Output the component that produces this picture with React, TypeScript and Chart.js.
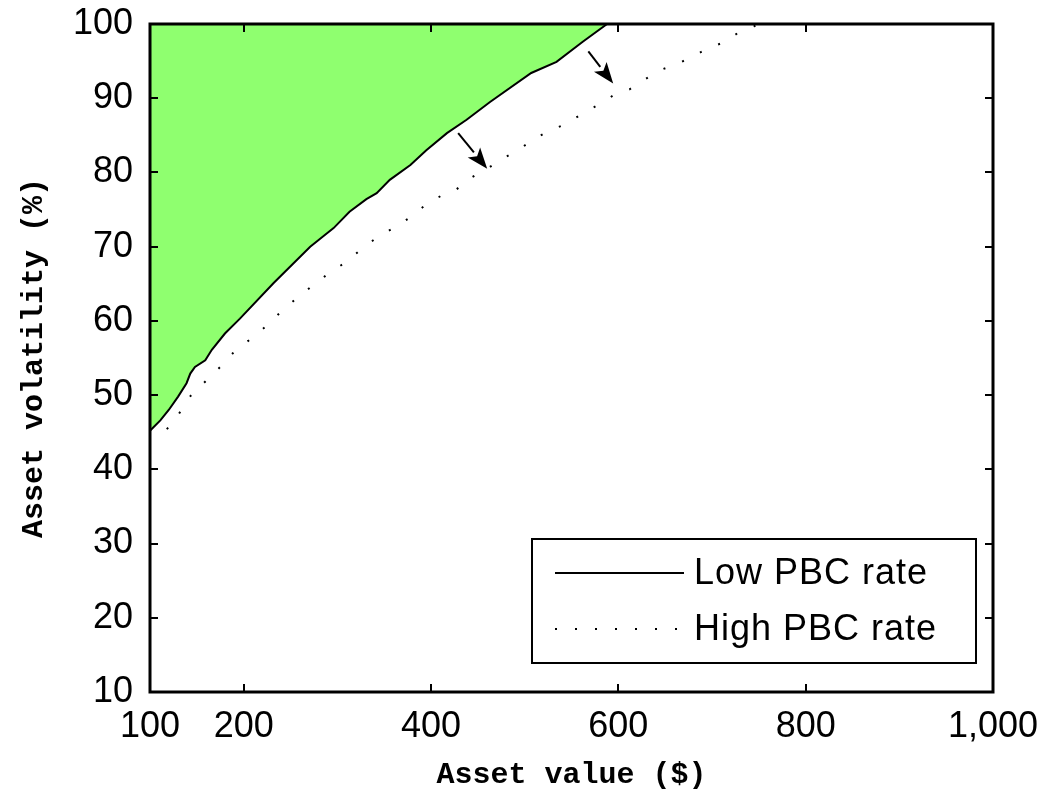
import React, { useEffect, useRef } from 'react';
import { Chart, registerables } from 'chart.js';

Chart.register(...registerables);

// Low PBC rate (solid boundary of the green region)
const lowX = [100, 111, 120, 130, 139, 143, 148, 159, 166, 180, 196, 232, 271, 289, 296, 313, 331, 342, 356, 378, 395, 417, 438, 463, 507, 534, 562, 588];
const lowY = [45.2, 46.6, 48.0, 49.8, 51.6, 52.9, 53.8, 54.7, 56.1, 58.3, 60.3, 65.1, 70.0, 71.8, 72.5, 74.7, 76.4, 77.2, 79.0, 81.0, 83.0, 85.3, 87.1, 89.5, 93.4, 94.9, 97.6, 100];

// High PBC rate (dotted)
const highX = [118, 131, 141, 158, 175, 191, 208, 225, 242, 258, 275, 293, 309, 325, 343, 360, 376, 393, 410, 426, 443, 460, 477, 494, 510, 527, 544, 560, 577, 595, 612, 628, 645, 662, 678, 695, 712, 729, 745, 750];
const highY = [45.4, 47.5, 49.6, 51.7, 53.8, 56.0, 57.6, 59.4, 61.5, 63.2, 64.9, 66.6, 67.9, 69.6, 71.3, 72.5, 73.8, 75.5, 76.8, 77.6, 79.3, 80.5, 81.9, 83.1, 84.5, 85.7, 86.5, 87.8, 89.0, 90.4, 91.2, 92.5, 93.8, 94.6, 95.5, 96.7, 97.5, 98.9, 99.7, 100];

const seriesLabels = ['Low PBC rate', 'High PBC rate'];

const xTickValues = [100, 200, 400, 600, 800, 1000];
const yTickValues = [10, 20, 30, 40, 50, 60, 70, 80, 90, 100];

// Arrows from the low-rate curve to the high-rate curve
const arrowFromX = [429, 568];
const arrowFromY = [85.3, 96.3];
const arrowToX = [460, 594.5];
const arrowToY = [80.5, 92.0];

const GREEN = '#8fff6f';

export default function App() {
  const ref = useRef<HTMLCanvasElement>(null);

  useEffect(() => {
    const canvas = ref.current;
    if (!canvas) return;

    const decor = {
      id: 'decor',
      afterDatasetsDraw(chart: any) {
        const ctx = chart.ctx as CanvasRenderingContext2D;
        const xs = chart.scales.x;
        const ys = chart.scales.y;
        const { left, right, top, bottom } = chart.chartArea;

        ctx.save();
        // arrows
        ctx.strokeStyle = '#000';
        ctx.fillStyle = '#000';
        for (let i = 0; i < arrowFromX.length; i++) {
          const x0 = xs.getPixelForValue(arrowFromX[i]);
          const y0 = ys.getPixelForValue(arrowFromY[i]);
          const x1 = xs.getPixelForValue(arrowToX[i]);
          const y1 = ys.getPixelForValue(arrowToY[i]);
          const ang = Math.atan2(y1 - y0, x1 - x0);
          const len = 21;
          const hw = 8;
          const bx = x1 - len * Math.cos(ang);
          const by = y1 - len * Math.sin(ang);
          ctx.lineWidth = 2;
          ctx.beginPath();
          ctx.moveTo(x0, y0);
          ctx.lineTo(bx, by);
          ctx.stroke();
          ctx.beginPath();
          ctx.moveTo(x1, y1);
          ctx.lineTo(bx + hw * Math.sin(ang), by - hw * Math.cos(ang));
          ctx.lineTo(bx + 5 * Math.cos(ang), by + 5 * Math.sin(ang));
          ctx.lineTo(bx - hw * Math.sin(ang), by + hw * Math.cos(ang));
          ctx.closePath();
          ctx.fill();
        }

        // box
        ctx.lineWidth = 3;
        ctx.strokeStyle = '#000';
        ctx.strokeRect(left, top, right - left, bottom - top);

        // inward ticks
        ctx.lineWidth = 2;
        const tl = 8;
        ctx.beginPath();
        xs.ticks.forEach((t: any) => {
          if (t.value <= xs.min || t.value >= xs.max) return;
          const px = Math.round(xs.getPixelForValue(t.value));
          ctx.moveTo(px, bottom);
          ctx.lineTo(px, bottom - tl);
          ctx.moveTo(px, top);
          ctx.lineTo(px, top + tl);
        });
        ys.ticks.forEach((t: any) => {
          if (t.value <= ys.min || t.value >= ys.max) return;
          const py = Math.round(ys.getPixelForValue(t.value));
          ctx.moveTo(left, py);
          ctx.lineTo(left + tl, py);
          ctx.moveTo(right, py);
          ctx.lineTo(right - tl, py);
        });
        ctx.stroke();

        // legend
        const lx0 = 532, ly0 = 539, lx1 = 976, ly1 = 663;
        ctx.fillStyle = '#fff';
        ctx.fillRect(lx0, ly0, lx1 - lx0, ly1 - ly0);
        ctx.lineWidth = 2;
        ctx.strokeStyle = '#000';
        ctx.strokeRect(lx0, ly0, lx1 - lx0, ly1 - ly0);
        const rows = [573, 629];
        chart.data.datasets.forEach((ds: any, i: number) => {
          const cy = rows[i];
          ctx.beginPath();
          ctx.lineWidth = ds.borderWidth;
          ctx.setLineDash(ds.borderDash || []);
          ctx.moveTo(555, cy);
          ctx.lineTo(684, cy);
          ctx.stroke();
          ctx.setLineDash([]);
          ctx.fillStyle = '#000';
          ctx.font = '36px "Liberation Sans", Arial, sans-serif';
          ctx.textBaseline = 'middle';
          ctx.textAlign = 'left';
          (ctx as any).letterSpacing = '1px';
          ctx.fillText(ds.label, 694, cy + 1);
          (ctx as any).letterSpacing = '0px';
        });
        ctx.restore();
      },
    };

    const chart = new Chart(canvas, {
      type: 'line',
      data: {
        datasets: [
          {
            label: seriesLabels[0],
            data: lowX.map((x, i) => ({ x, y: lowY[i] })),
            borderColor: '#000',
            borderWidth: 2,
            backgroundColor: GREEN,
            fill: 'end',
            pointRadius: 0,
            tension: 0,
          },
          {
            label: seriesLabels[1],
            data: highX.map((x, i) => ({ x, y: highY[i] })),
            borderColor: '#000',
            borderWidth: 2,
            borderDash: [2, 18],
            fill: false,
            pointRadius: 0,
            tension: 0,
          },
        ],
      },
      options: {
        animation: false,
        responsive: false,
        events: [],
        layout: { padding: { top: 24, right: 52, left: 0, bottom: 0 } },
        plugins: {
          legend: { display: false },
          tooltip: { enabled: false },
          filler: { propagate: false },
        },
        scales: {
          x: {
            type: 'linear',
            min: 100,
            max: 1000,
            afterBuildTicks: (scale: any) => {
              scale.ticks = xTickValues.map((v) => ({ value: v }));
            },
            afterFit: (scale: any) => {
              scale.height = 111;
              scale.paddingLeft = 0;
              scale.paddingRight = 0;
              scale.paddingTop = 0;
              scale.paddingBottom = 0;
            },
            grid: { display: false, drawTicks: false },
            border: { display: false },
            ticks: {
              autoSkip: false,
              maxRotation: 0,
              padding: 13,
              color: '#000',
              font: { family: '"Liberation Sans", Arial, sans-serif', size: 36 },
              callback: (v: any) => Number(v).toLocaleString('en-US'),
            },
            title: {
              display: true,
              text: 'Asset value ($)',
              color: '#000',
              font: { family: '"Liberation Mono", monospace', size: 30, weight: 'bold' },
              padding: { top: 0, bottom: 10 },
            },
          },
          y: {
            type: 'linear',
            min: 10,
            max: 100,
            afterBuildTicks: (scale: any) => {
              scale.ticks = yTickValues.map((v) => ({ value: v }));
            },
            afterFit: (scale: any) => {
              scale.width = 150;
              scale.paddingLeft = 0;
              scale.paddingRight = 0;
              scale.paddingTop = 0;
              scale.paddingBottom = 0;
            },
            grid: { display: false, drawTicks: false },
            border: { display: false },
            ticks: {
              autoSkip: false,
              padding: 17,
              color: '#000',
              font: { family: '"Liberation Sans", Arial, sans-serif', size: 36 },
            },
            title: {
              display: true,
              text: 'Asset volatility (%)',
              color: '#000',
              font: { family: '"Liberation Mono", monospace', size: 30, weight: 'bold' },
              padding: { top: 16, bottom: 0 },
            },
          },
        },
      },
      plugins: [decor],
    });

    return () => chart.destroy();
  }, []);

  return (
    <div style={{ position: 'absolute', left: 0, top: 0, width: 1045, height: 803, background: '#fff' }}>
      <canvas ref={ref} width={1045} height={803} style={{ display: 'block' }} />
    </div>
  );
}
